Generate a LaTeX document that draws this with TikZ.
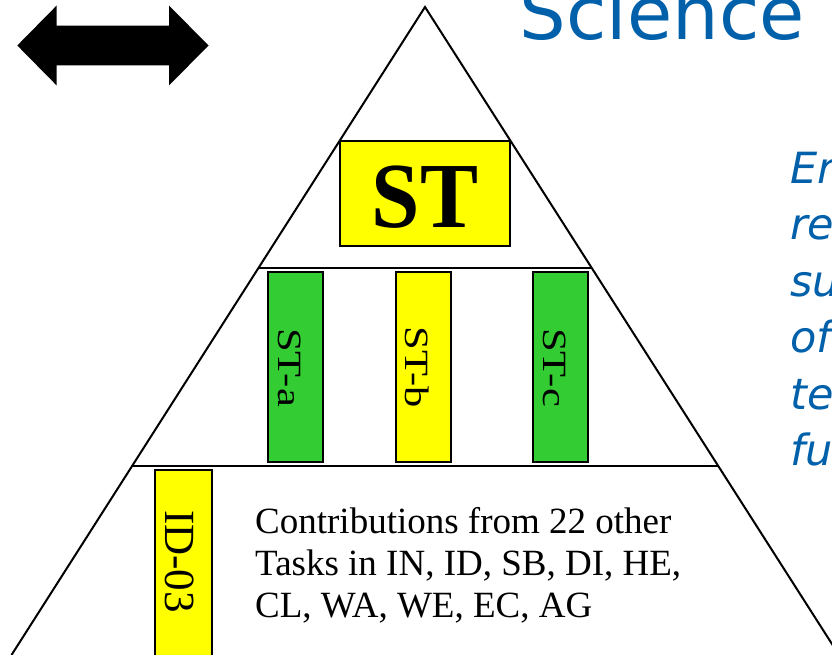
\documentclass[tikz,border=0pt]{standalone}
\usepackage{fontspec}
\setmainfont{Liberation Serif}
\newfontfamily\slidesans{DejaVu Sans}
\usetikzlibrary{calc}
\definecolor{stgreen}{RGB}{51,204,51}
\definecolor{styellow}{RGB}{255,255,0}
\definecolor{slideblue}{RGB}{0,96,170}

\begin{document}
\begin{tikzpicture}[x=1pt,y=-1pt,
  edge/.style={line width=2pt, black},
  taskbox/.style={draw=black, line width=2pt, inner sep=0pt},
  vlabel/.style={rotate=-90, inner sep=0pt, font=\fontsize{42.5}{42.5}\selectfont},
  bodytext/.style={inner sep=0pt, align=left, font=\fontsize{37}{42}\selectfont},
  bluetext/.style={inner sep=0pt, text=slideblue}]

  \useasboundingbox (0,0) rectangle (832,655);
  \fill[white] (0,0) rectangle (832,655);
  \clip (0,0) rectangle (832,655);

  % two-headed arrow in the corner
  \fill[black] (17.3,45.5) -- (56.7,5.5) -- (56.7,25.7) -- (169,25.7) -- (169,5.5)
    -- (208.5,45.5) -- (169,85.5) -- (169,65.5) -- (56.7,65.5) -- (56.7,85.5) -- cycle;

  % heading
  \node[bluetext, anchor=base west, font=\slidesans\fontsize{73.5}{73.5}\selectfont]
    (title) at (519.5,40) {Science};

  % slanted side text
  \foreach \t [count=\i] in {Er,re,su,of,te,fu}
    \node[bluetext, anchor=base west, font=\slidesans\itshape\fontsize{43}{43}\selectfont]
      (side\i) at (790,{183.3+56.5*(\i-1)}) {\t};

  % pyramid outline and tiers
  \coordinate (apex) at (425,7);
  \coordinate (bl) at (11.5,655);
  \coordinate (br) at (839,655);
  \draw[edge] (bl) -- (apex) -- (br);
  \coordinate (t1l) at ($(apex)!0.4032!(bl)$);
  \coordinate (t1r) at ($(apex)!0.4032!(br)$);
  \coordinate (t2l) at ($(apex)!0.7076!(bl)$);
  \coordinate (t2r) at ($(apex)!0.7076!(br)$);
  \draw[edge] (t1l) -- (t1r);
  \draw[edge] (t2l) -- (t2r);

  % top task
  \node[taskbox, fill=styellow, minimum width=170pt, minimum height=105pt]
    (st) at (425,193.2) {};
  \node[inner sep=0pt, font=\bfseries\fontsize{87}{87}\selectfont]
    (stlabel) at (425,197.5) {\scalebox{1}[1.07]{ST}};

  % sub-tasks
  \node[taskbox, fill=stgreen, minimum width=55pt, minimum height=190pt] (sta) at (295,366.7) {};
  \node[taskbox, fill=styellow, minimum width=55pt, minimum height=190pt] (stb) at (423.2,367) {};
  \node[taskbox, fill=stgreen, minimum width=55pt, minimum height=190pt] (stc) at (560.5,367) {};
  \node[vlabel] (stalabel) at (289.5,367.5) {\scalebox{1}[0.8]{ST-a}};
  \node[vlabel] (stblabel) at (417.5,367.5) {\scalebox{1}[0.8]{ST-b}};
  \node[vlabel] (stclabel) at (554.5,367.5) {\scalebox{1}[0.8]{ST-c}};

  % contributing tasks
  \node[taskbox, fill=styellow, minimum width=56.7pt, minimum height=195pt] (id) at (183.3,567.5) {};
  \node[rotate=-90, inner sep=0pt, font=\fontsize{43}{43}\selectfont] (idlabel) at (180,561.5) {ID-03};
  \node[bodytext, anchor=north west] (contrib) at (255,507)
    {Contributions from 22 other\\Tasks in IN, ID, SB, DI, HE,\\CL, WA, WE, EC, AG};
\end{tikzpicture}
\end{document}
